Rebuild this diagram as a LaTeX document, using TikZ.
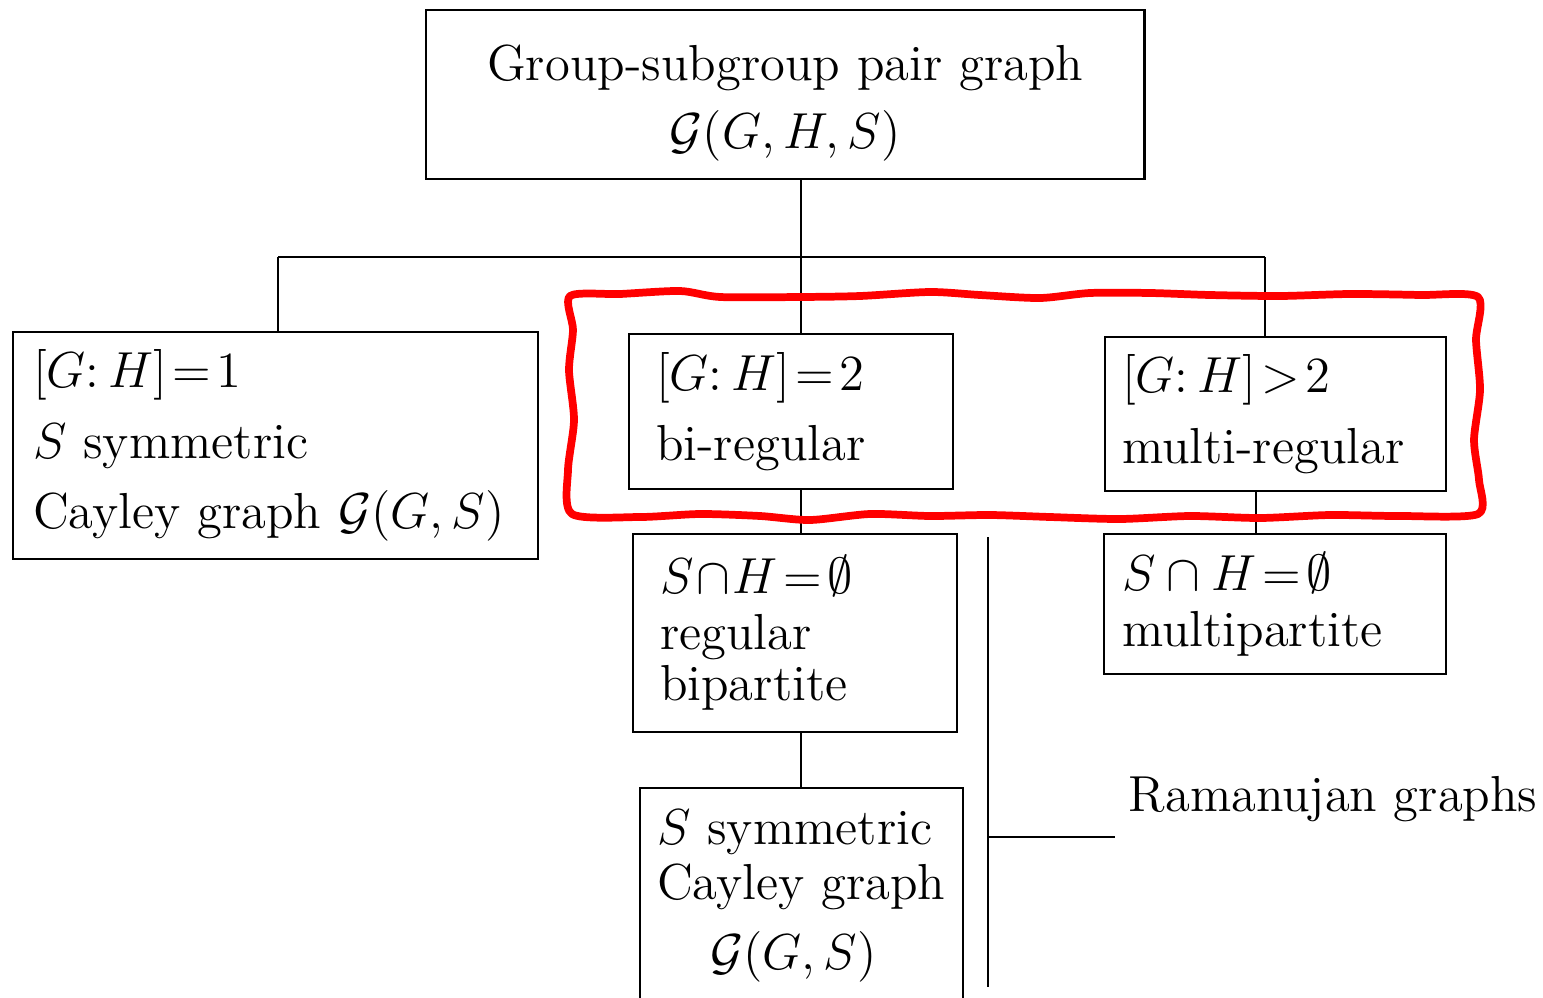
\documentclass[tikz,border=0pt]{standalone}
\usepackage{amsmath}
\usepackage{amssymb}
\usetikzlibrary{positioning}

\begin{document}
\begin{tikzpicture}[
        x=0.01cm, y=-0.01cm,
        box/.style={draw, line width=0.6pt, anchor=north west, inner ysep=0pt, font=\Large},
        link/.style={line width=0.6pt},
        wavy/.style={draw=red, line width=2.2pt, line join=round}
    ]
        \clip (0,0) rectangle (1543,997);

        % root of the tree
        \node[box, minimum width=7.18cm, minimum height=1.69cm, text width=6.8cm, align=center,
            inner xsep=0.19cm] (top) at (425,9)
            {\rule{0pt}{15pt}Group-subgroup pair graph\\[1.5pt] $\mathcal{G}(G,H,S)$};

        % three cases of the index
        \node[box, minimum width=5.25cm, minimum height=2.27cm, text width=4.85cm, align=left,
            inner xsep=0.2cm] (b1) at (12,331)
            {$[G{:}\,H]\!=\!1$\\[2pt] $S$ symmetric\\[2pt] Cayley graph $\mathcal{G}(G,S)$};
        \node[box, minimum width=3.24cm, minimum height=1.55cm, text width=2.7cm, align=left,
            inner xsep=0.27cm] (b2) at (628,333) {$[G{:}\,H]\!=\!2$\\[2pt] bi-regular};
        \node[box, minimum width=3.41cm, minimum height=1.54cm, text width=3.07cm, align=left,
            inner xsep=0.17cm] (b3) at (1104,336) {$[G{:}\,H]\!>\!2$\\[2pt] multi-regular};

        % S and H disjoint
        \node[box, minimum width=3.24cm, minimum height=1.98cm, text width=2.7cm, align=left,
            inner xsep=0.27cm] (b4) at (632,533)
            {$S\!\cap\! H\!=\!\emptyset$\\[-2pt] regular\\[-3.5pt] bipartite};
        \node[box, minimum width=3.42cm, minimum height=1.40cm, text width=3.06cm, align=left,
            inner xsep=0.18cm] (b5) at (1103,533) {$S\cap H\!=\!\emptyset$\\[-2pt] multipartite};
        \node[box, minimum width=3.23cm, minimum height=2.16cm, text width=2.89cm, align=left,
            inner xsep=0.17cm] (b6) at (639,787)
            {$S$ symmetric\\[-2.5pt] Cayley graph\\[2pt] \hspace*{0.53cm}$\mathcal{G}(G,S)$};

        \node[font=\Large, inner sep=0pt, anchor=west] (ram) at (1128,799) {Ramanujan graphs};

        \coordinate (j1) at (278,257);
        \coordinate (j2) at (801,257);
        \coordinate (j3) at (1265,257);
        \coordinate (j4) at (1256,510);
        \coordinate (r1) at (988,537);
        \coordinate (r2) at (988,987);
        \coordinate (r3) at (988,837);
        \coordinate (r4) at (1115,837);

        \draw[link] (j1) -- (j3);
        \draw[link] (top.south -| j2) -- (b2.north -| j2);
        \draw[link] (j1) -- (j1 |- b1.north);
        \draw[link] (j3) -- (j3 |- b3.north);
        \draw[link] (b2.south -| j2) -- (b4.north -| j2);
        \draw[link] (b4.south -| j2) -- (b6.north -| j2);
        \draw[link] (b3.south -| j4) -- (b5.north -| j4);
        \draw[link] (r1) -- (r2);
        \draw[link] (r3) -- (r4);

        % highlight, drawn by hand
        \draw[wavy] plot[smooth cycle, tension=0.45] coordinates {
            (570,296) (620,294) (680,291) (720,297) (800,297) (860,296) (930,292) (980,295)
            (1040,298) (1090,293) (1150,293) (1210,295) (1280,296) (1350,294) (1420,295) (1478,297)
            (1476,340) (1480,390) (1474,440) (1479,480) (1478,514)
            (1400,516) (1330,515) (1260,518) (1190,516) (1120,519) (1050,517) (990,515)
            (930,516) (870,514) (810,520) (760,516) (700,514) (640,517) (572,514)
            (568,470) (574,420) (569,370) (573,330)};

    \end{tikzpicture}
\end{document}
